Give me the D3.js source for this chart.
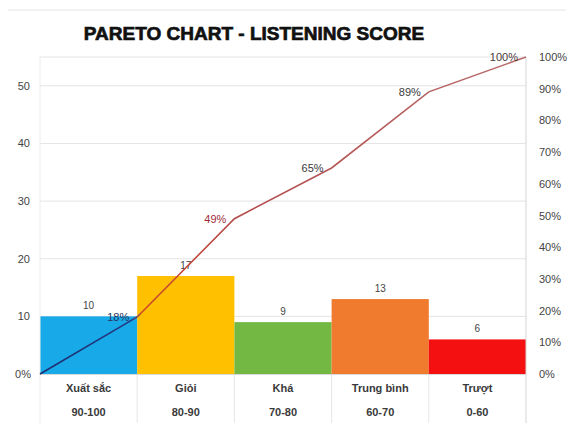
<!DOCTYPE html>
<html><head><meta charset="utf-8">
<script src="https://cdn.jsdelivr.net/npm/d3@7/dist/d3.min.js"></script>
<style>body{margin:0;background:#fff;} svg{display:block;}</style>
</head><body>
<svg id="chart" width="574" height="423"></svg>
<script>
const categories = ["Xuất sắc", "Giỏi", "Khá", "Trung bình", "Trượt"];
const ranges = ["90-100", "80-90", "70-80", "60-70", "0-60"];
const counts = [10, 17, 9, 13, 6];
const cumulative = [0.18, 0.49, 0.65, 0.89, 1.00];
const barColors = ["#17a9e8", "#ffc000", "#72b843", "#f07b2e", "#f41010"];
const leftTicks = [10, 20, 30, 40, 50];
const rightTicks = [0, 0.1, 0.2, 0.3, 0.4, 0.5, 0.6, 0.7, 0.8, 0.9, 1.0];

const svg = d3.select("#chart");
const m = {left: 40, right: 526, top: 57, bottom: 374};
const x = d3.scaleBand().domain(categories).range([m.left, m.right]).padding(0);
const y = d3.scaleLinear().domain([0, 55]).range([m.bottom, m.top]);
const y2 = d3.scaleLinear().domain([0, 1]).range([m.bottom, m.top]);
const fnt = "Liberation Sans, Arial, sans-serif";

// faint frame line at top
svg.append("line").attr("x1", 8).attr("x2", 566).attr("y1", 10).attr("y2", 10).attr("stroke", "#e6e6e6");

// title
svg.append("text").attr("x", 254).attr("y", 40).attr("text-anchor", "middle")
  .attr("font-family", fnt).attr("font-weight", "900")
  .attr("font-size", 19).attr("fill", "#111").attr("stroke", "#111").attr("stroke-width", 0.7)
  .text("PARETO CHART - LISTENING SCORE");

// gridlines
svg.append("g").selectAll("line").data(leftTicks.concat([55])).join("line")
  .attr("x1", m.left).attr("x2", m.right)
  .attr("y1", d => y(d)).attr("y2", d => y(d))
  .attr("stroke", "#e4e4e4").attr("stroke-width", 1);

// left axis labels
svg.append("g").selectAll("text").data(leftTicks).join("text")
  .attr("x", 30).attr("y", d => y(d) + 4).attr("text-anchor", "end")
  .attr("font-family", fnt).attr("font-size", 11).attr("fill", "#444")
  .text(d => d);

// right axis labels
svg.append("g").selectAll("text").data(rightTicks).join("text")
  .attr("x", 539).attr("y", d => y2(d) + 4).attr("text-anchor", "start")
  .attr("font-family", fnt).attr("font-size", 11).attr("fill", "#444")
  .text(d => d3.format(".0%")(d));

// bars
svg.append("g").selectAll("rect").data(categories).join("rect")
  .attr("x", d => x(d)).attr("width", x.bandwidth())
  .attr("y", (d, i) => y(counts[i])).attr("height", (d, i) => y(0) - y(counts[i]))
  .attr("fill", (d, i) => barColors[i]);

// axis lines
svg.append("line").attr("x1", m.right).attr("x2", m.right).attr("y1", m.top).attr("y2", 423)
  .attr("stroke", "#d6d6d6");
svg.append("line").attr("x1", m.left).attr("x2", m.left).attr("y1", m.top).attr("y2", 423)
  .attr("stroke", "#ececec");
svg.append("g").selectAll("line").data(categories.slice(1)).join("line")
  .attr("x1", d => x(d)).attr("x2", d => x(d)).attr("y1", m.bottom).attr("y2", 423)
  .attr("stroke", "#e6e6e6");
svg.append("line").attr("x1", m.left).attr("x2", m.right).attr("y1", m.bottom + 0.5).attr("y2", m.bottom + 0.5)
  .attr("stroke", "#d9d9d9");

// bar value labels
svg.append("g").selectAll("text").data(categories).join("text")
  .attr("x", d => x(d) + x.bandwidth() / 2).attr("y", (d, i) => y(counts[i]) - 7)
  .attr("text-anchor", "middle").attr("font-family", fnt).attr("font-size", 10).attr("fill", "#444")
  .text((d, i) => counts[i]);

// category labels
const cl = svg.append("g");
cl.selectAll("text.c").data(categories).join("text").attr("class", "c")
  .attr("x", d => x(d) + x.bandwidth() / 2).attr("y", 392)
  .attr("text-anchor", "middle").attr("font-family", fnt).attr("font-size", 11)
  .attr("font-weight", "bold").attr("fill", "#3a3a3a").text(d => d);
cl.selectAll("text.r").data(categories).join("text").attr("class", "r")
  .attr("x", d => x(d) + x.bandwidth() / 2).attr("y", 416)
  .attr("text-anchor", "middle").attr("font-family", fnt).attr("font-size", 11)
  .attr("font-weight", "bold").attr("fill", "#3a3a3a").text((d, i) => ranges[i]);

// cumulative line
const defs = svg.append("defs");
const g = defs.append("linearGradient").attr("id", "lg").attr("gradientUnits", "userSpaceOnUse")
  .attr("x1", m.left).attr("x2", m.right).attr("y1", 0).attr("y2", 0);
g.append("stop").attr("offset", "0").attr("stop-color", "#1c2f70");
g.append("stop").attr("offset", "0.19").attr("stop-color", "#243a84");
g.append("stop").attr("offset", "0.21").attr("stop-color", "#d0452a");
g.append("stop").attr("offset", "0.40").attr("stop-color", "#b44a4a");
g.append("stop").attr("offset", "1").attr("stop-color", "#b86e6e");

const pts = [[m.left, 0]].concat(categories.map((d, i) => [x(d) + x.bandwidth(), cumulative[i]]));
svg.append("path").datum(pts)
  .attr("d", d3.line().x(d => d[0]).y(d => y2(d[1])))
  .attr("fill", "none").attr("stroke", "url(#lg)").attr("stroke-width", 1.6);

// cumulative labels
const pctColors = ["#2a3560", "#a02c3a", "#3a3a3a", "#3a3a3a", "#4a3a3a"];
svg.append("g").selectAll("text").data(categories).join("text")
  .attr("x", (d, i) => x(d) + x.bandwidth() - 8).attr("y", (d, i) => y2(cumulative[i]) + 4)
  .attr("text-anchor", "end").attr("font-family", fnt).attr("font-size", 11)
  .attr("fill", (d, i) => pctColors[i])
  .text((d, i) => d3.format(".0%")(cumulative[i]));
// 0% label at the start of the line (sits where the left axis "0" would be)
svg.append("text").attr("x", 31).attr("y", y2(0) + 4).attr("text-anchor", "end")
  .attr("font-family", fnt).attr("font-size", 11).attr("fill", "#444").text("0%");
</script>
</body></html>
